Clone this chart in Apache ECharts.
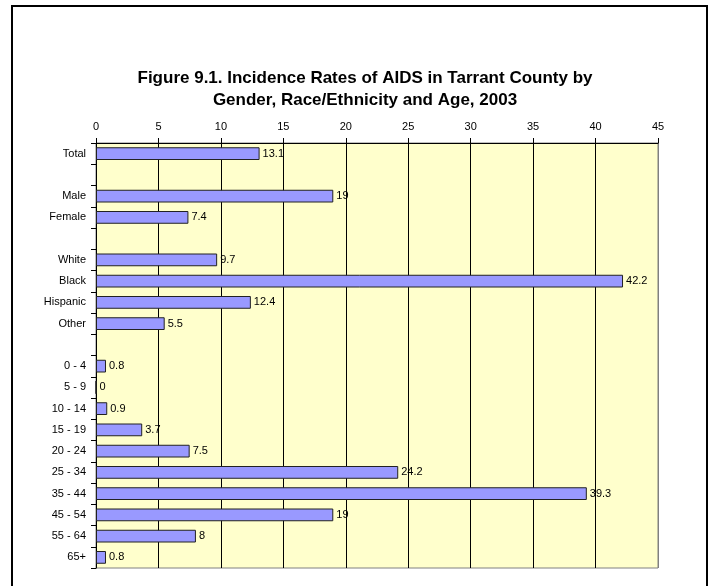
<!DOCTYPE html>
<html><head><meta charset="utf-8">
<script src="https://cdn.jsdelivr.net/npm/echarts@6/dist/echarts.min.js"></script>
<style>html,body{margin:0;padding:0;background:#fff}#c{width:708px;height:586px}</style>
</head><body><div id="c"></div>
<script>
const categories = ['Total',' ','Male','Female','  ','White','Black','Hispanic','Other','   ',
  '0 - 4','5 - 9','10 - 14','15 - 19','20 - 24','25 - 34','35 - 44','45 - 54','55 - 64','65+'];
const rates = [13.1,null,19,7.4,null,9.7,42.2,12.4,5.5,null,
  0.8,0,0.9,3.7,7.5,24.2,39.3,19,8,0.8];
const xTicks = {min:0, max:45, interval:5};
const titleText = 'Figure 9.1. Incidence Rates of AIDS in Tarrant County by\nGender, Race/Ethnicity and Age, 2003';

const chart = echarts.init(document.getElementById('c'), null, {renderer:'canvas'});
const splitColors = [];
for (let v = xTicks.min; v <= xTicks.max; v += xTicks.interval) splitColors.push(v === xTicks.max ? '#808080' : '#000');
chart.setOption({
  animation:false,
  backgroundColor:'#fff',
  textStyle:{fontFamily:'Liberation Sans, Arial, sans-serif'},
  graphic:[{type:'rect', shape:{x:12,y:6,width:695,height:586}, style:{fill:'none',stroke:'#000',lineWidth:2}, z:100}],
  title:{text:titleText, left:360, top:62, textAlign:'center',
    textStyle:{fontFamily:'Liberation Sans, Arial, sans-serif', fontSize:17, fontWeight:'bold', color:'#000', lineHeight:22}},
  grid:{left:96, right:50, top:143, bottom:18, show:true, backgroundColor:'#FFFFCC', borderColor:'#808080', borderWidth:1},
  xAxis:{type:'value', position:'top', min:xTicks.min, max:xTicks.max, interval:xTicks.interval,
    axisLine:{show:true, lineStyle:{color:'#000', width:1}},
    axisTick:{show:true, length:5, lineStyle:{color:'#000'}},
    axisLabel:{color:'#000', fontSize:11, margin:11, fontFamily:'Liberation Sans, Arial, sans-serif'},
    splitLine:{show:true, lineStyle:{color:splitColors, width:1}}},
  yAxis:{type:'category', data:categories, inverse:true,
    axisLine:{show:true, lineStyle:{color:'#000', width:1}},
    axisTick:{show:true, length:5, lineStyle:{color:'#000'}},
    axisLabel:{color:'#000', fontSize:11, margin:10, fontFamily:'Liberation Sans, Arial, sans-serif'}},
  series:[{type:'bar', data:rates, barWidth:'60%',
    itemStyle:{color:'#9999FF', borderColor:'#222', borderWidth:1},
    label:{show:true, position:'right', distance:3, color:'#000', fontSize:11, fontFamily:'Liberation Sans, Arial, sans-serif'}}]
});
</script></body></html>
